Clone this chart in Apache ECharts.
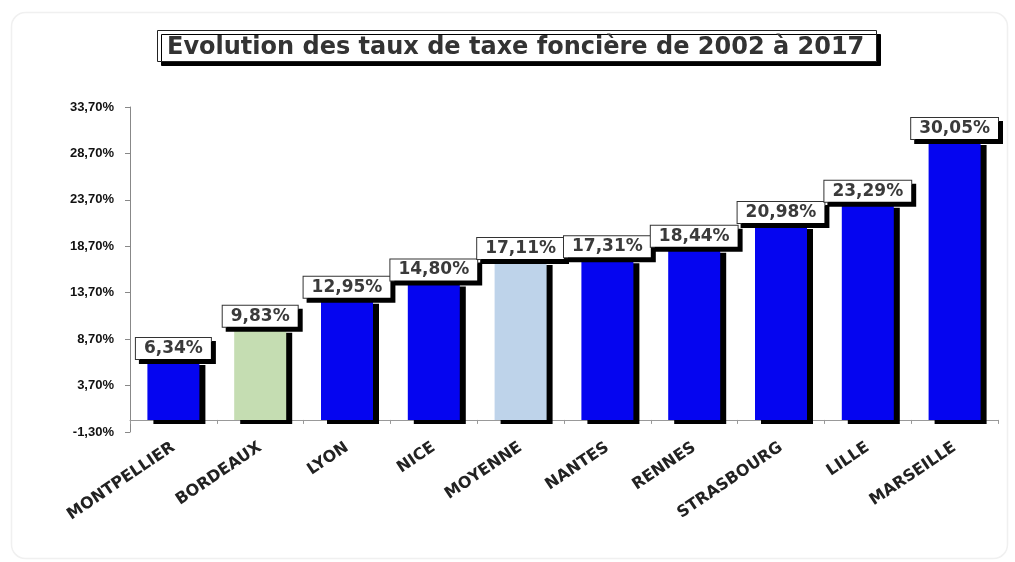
<!DOCTYPE html>
<html>
<head>
<meta charset="utf-8">
<script src="https://cdn.jsdelivr.net/npm/echarts@6/dist/echarts.min.js"></script>
<style>html,body{margin:0;padding:0;background:#fff;}#c{width:1015px;height:562px;}</style>
</head>
<body>
<div id="c"></div>
<script>
const categories = ['MONTPELLIER','BORDEAUX','LYON','NICE','MOYENNE','NANTES','RENNES','STRASBOURG','LILLE','MARSEILLE'];
const values = [6.34, 9.83, 12.95, 14.80, 17.11, 17.31, 18.44, 20.98, 23.29, 30.05];
const barColors = ['#0505F0','#C5DDB2','#0505F0','#0505F0','#BED3EA','#0505F0','#0505F0','#0505F0','#0505F0','#0505F0'];
const yMin = -1.3, yMax = 33.7, yStep = 5;
const titleText = 'Evolution des taux de taxe foncière de 2002 à 2017';

const fmt = v => v.toFixed(2).replace('.', ',') + '%';
const chart = echarts.init(document.getElementById('c'));
chart.setOption({
  backgroundColor: '#fff',
  animation: false,
  graphic: [{
    type: 'rect', left: 9, top: 10, z: -10,
    shape: { width: 996, height: 546, r: 14 },
    style: { fill: 'none', stroke: '#f0f0f0', lineWidth: 1.5 }
  }],
  title: {
    text: titleText,
    left: 157, top: 30,
    padding: [4, 12, 1, 10],
    backgroundColor: '#fff',
    borderColor: '#222', borderWidth: 1,
    shadowColor: '#000', shadowOffsetX: 4, shadowOffsetY: 4, shadowBlur: 0,
    textStyle: { fontFamily: 'DejaVu Sans', fontWeight: 'bold', fontSize: 24, lineHeight: 27, color: '#333' }
  },
  grid: { left: 130, right: 17, top: 107, bottom: 130, containLabel: false },
  xAxis: {
    type: 'category', data: categories,
    axisLine: { lineStyle: { color: '#999', width: 1 } },
    axisTick: { show: true, length: 4, lineStyle: { color: '#999' } },
    axisLabel: {
      rotate: 34, margin: 14, interval: 0,
      fontFamily: 'DejaVu Sans', fontWeight: 'bold', fontSize: 16, color: '#222'
    }
  },
  yAxis: {
    type: 'value', min: yMin, max: yMax, interval: yStep,
    axisLine: { show: true, lineStyle: { color: '#888', width: 1 } },
    axisTick: { show: true, length: 5, lineStyle: { color: '#888' } },
    splitLine: { show: false },
    axisLabel: {
      margin: 16,
      formatter: v => fmt(v),
      fontFamily: 'Liberation Sans', fontWeight: 'bold', fontSize: 13, color: '#111'
    }
  },
  series: [{
    type: 'bar',
    barWidth: 52,
    data: values.map((v, i) => ({ value: v, itemStyle: { color: barColors[i] } })),
    itemStyle: { shadowColor: '#000', shadowOffsetX: 6, shadowOffsetY: 4, shadowBlur: 0 },
    label: {
      show: true, position: 'top', distance: 2,
      formatter: p => fmt(p.value),
      fontFamily: 'DejaVu Sans', fontWeight: 'bold', fontSize: 17, color: '#3a3a3a',
      backgroundColor: '#fff', borderColor: '#333', borderWidth: 1,
      padding: [2, 8, 2, 8],
      shadowColor: '#000', shadowOffsetX: 4, shadowOffsetY: 4, shadowBlur: 0
    }
  }]
});
</script>
</body>
</html>
